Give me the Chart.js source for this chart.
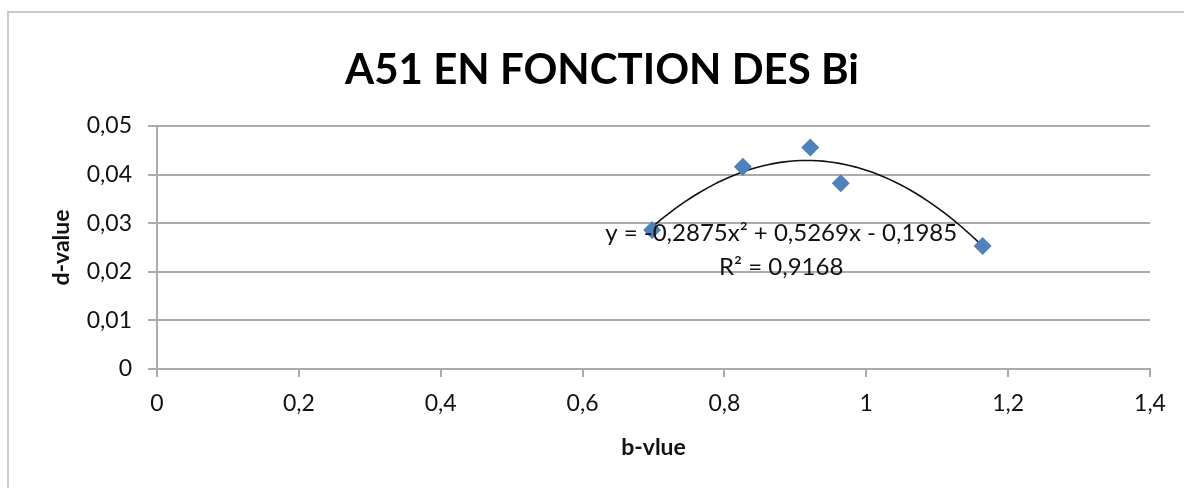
<!DOCTYPE html>
<html>
<head>
<meta charset="utf-8">
<script src="https://cdn.jsdelivr.net/npm/chart.js@4.4.1/dist/chart.umd.min.js"></script>
<style>
  html, body { margin: 0; padding: 0; background: #ffffff; }
  #wrap { position: absolute; left: 0; top: 0; width: 1184px; height: 488px; }
</style>
</head>
<body>
<div id="wrap"><canvas id="chart" width="1184" height="488"></canvas></div>
<script>
// Measured points: b-value (x) against d-value (y)
const bValues = [0.698, 0.826, 0.921, 0.964, 1.164];
const dValues = [0.0286, 0.0416, 0.0456, 0.0382, 0.0253];

// Axis tick labels (French decimal comma)
const xTickLabels = ['0', '0,2', '0,4', '0,6', '0,8', '1', '1,2', '1,4'];
const yTickLabels = ['0', '0,01', '0,02', '0,03', '0,04', '0,05'];

// Second-order polynomial trendline: y = a*x^2 + b*x + c
const trendCoefs = [-0.2875, 0.5269, -0.1985];
const trendR2 = 0.9168;
const trendLabel = ['y = -0,2875x² + 0,5269x - 0,1985', 'R² = 0,9168'];

const chartTitle = 'A51 EN FONCTION DES Bi';

const fmt = v => String(v).replace('.', ',');

// Trendline spans the range of the measured b-values
const xMin = Math.min(...bValues), xMax = Math.max(...bValues);
const trendPts = [];
for (let i = 0; i <= 60; i++) {
  const x = xMin + (xMax - xMin) * i / 60;
  trendPts.push({ x, y: trendCoefs[0] * x * x + trendCoefs[1] * x + trendCoefs[2] });
}

const points = bValues.map((x, i) => ({ x, y: dValues[i] }));

const gridGrey = '#ababab';
const textColor = '#111111';

// Frame around the chart object, plus the centred chart title
const framePlugin = {
  id: 'frame',
  beforeDraw(chart) {
    const ctx = chart.ctx;
    ctx.save();
    ctx.strokeStyle = '#cbcbcb';
    ctx.lineWidth = 2;
    ctx.beginPath();
    ctx.moveTo(8, 488);
    ctx.lineTo(8, 12);
    ctx.lineTo(1184, 12);
    ctx.stroke();
    ctx.font = 'bold 42px Lato';
    ctx.fillStyle = '#000000';
    ctx.textAlign = 'center';
    ctx.textBaseline = 'middle';
    ctx.fillText(chartTitle, 602, 70);
    ctx.restore();
  }
};

// Trendline equation text, anchored in data space
const equationPlugin = {
  id: 'equation',
  afterDatasetsDraw(chart) {
    const { ctx, scales } = chart;
    const cx = scales.x.getPixelForValue(0.88);
    const cy = scales.y.getPixelForValue(0.028);
    ctx.save();
    ctx.font = '24px Lato';
    ctx.fillStyle = textColor;
    ctx.textAlign = 'center';
    ctx.textBaseline = 'middle';
    ctx.fillText(trendLabel[0], cx, cy);
    ctx.fillText(trendLabel[1], cx, cy + 34);
    ctx.restore();
  }
};

new Chart(document.getElementById('chart'), {
  type: 'scatter',
  data: {
    datasets: [
      {
        label: 'Série1',
        data: points,
        pointStyle: 'rectRot',
        pointRadius: 9,
        pointHoverRadius: 9,
        backgroundColor: '#4F81BD',
        borderColor: '#4F81BD',
        borderWidth: 0,
        order: 1
      },
      {
        label: 'Poly. (Série1)',
        type: 'line',
        data: trendPts,
        borderColor: '#111111',
        borderWidth: 1.6,
        pointRadius: 0,
        fill: false,
        tension: 0,
        order: 2
      }
    ]
  },
  options: {
    responsive: false,
    animation: false,
    events: [],
    layout: { padding: { left: 0, right: 34, top: 126, bottom: 0 } },
    plugins: {
      legend: { display: false },
      tooltip: { enabled: false },
      title: { display: false }
    },
    scales: {
      x: {
        type: 'linear',
        min: 0,
        max: 1.4,
        afterFit(scale) { scale.height = 119; },
        ticks: {
          stepSize: 0.2,
          color: textColor,
          font: { family: 'Lato', size: 23 },
          padding: 13,
          maxRotation: 0,
          callback: (v, i) => xTickLabels[i] !== undefined ? xTickLabels[i] : fmt(v)
        },
        grid: { drawOnChartArea: false, drawTicks: true, tickLength: 8, color: gridGrey, lineWidth: 2 },
        border: { display: true, color: gridGrey, width: 2 },
        title: {
          display: true,
          text: 'b-vlue',
          color: textColor,
          font: { family: 'Lato', size: 23, weight: 'bold', lineHeight: 1.2 },
          padding: { top: 0, bottom: 27 }
        }
      },
      y: {
        type: 'linear',
        min: 0,
        max: 0.05,
        afterFit(scale) { scale.width = 157; },
        ticks: {
          stepSize: 0.01,
          color: textColor,
          font: { family: 'Lato', size: 23 },
          padding: 16,
          callback: (v, i) => yTickLabels[i] !== undefined ? yTickLabels[i] : fmt(v)
        },
        grid: { drawOnChartArea: true, drawTicks: true, tickLength: 9, color: gridGrey, lineWidth: 2 },
        border: { display: true, color: gridGrey, width: 2 },
        title: {
          display: true,
          text: 'd-value',
          color: textColor,
          font: { family: 'Lato', size: 23, weight: 'bold', lineHeight: 1.2 },
          padding: { top: 48, bottom: 0 }
        }
      }
    }
  },
  plugins: [framePlugin, equationPlugin]
});
</script>
</body>
</html>
